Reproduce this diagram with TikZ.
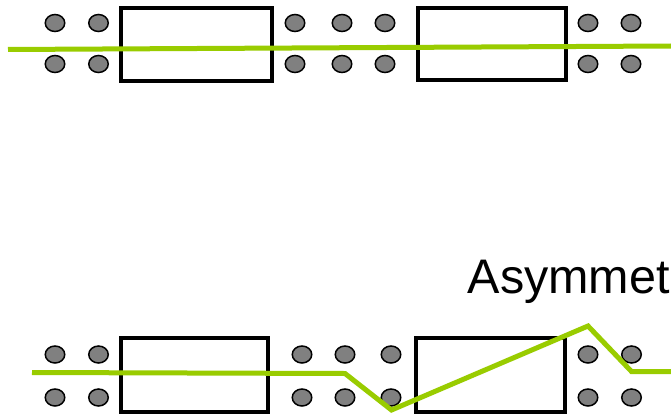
\documentclass[tikz,border=0pt]{standalone}
\usepackage{fontspec}
\setmainfont{Liberation Sans}
\usetikzlibrary{shapes.geometric}
\definecolor{lgreen}{HTML}{99CC00}
\definecolor{dotgray}{HTML}{808080}
\begin{document}
\begin{tikzpicture}[x=1pt,y=-1pt,
  dot/.style={ellipse,draw=black,line width=1.5pt,fill=dotgray,minimum width=19.5pt,minimum height=17pt,inner sep=0pt},
  box/.style={draw=black,line width=4pt,fill=white,inner sep=0pt},
  wire/.style={draw=lgreen,line width=5pt}]
\useasboundingbox (0,0) rectangle (671,417);
% top row
\node[box,minimum width=151pt,minimum height=73pt] (tb1) at (196.5,44.5) {};
\node[box,minimum width=148pt,minimum height=72pt] (tb2) at (492,44) {};
\foreach \x/\n in {55/a,98.5/b,295/c,342/d,385/e,588/f,631/g}{
  \node[dot] (tu\n) at (\x,23) {};
  \node[dot] (tl\n) at (\x,64) {};
}
% bottom row
\node[box,minimum width=147pt,minimum height=74.5pt] (bb1) at (194.5,374.75) {};
\node[box,minimum width=149pt,minimum height=74.5pt] (bb2) at (490,374.75) {};
\foreach \x/\n in {55/a,98.5/b,302/c,345/d,391/e,588/f,631.5/g}{
  \node[dot] (bu\n) at (\x,354.5) {};
  \node[dot] (bl\n) at (\x,397.5) {};
}
\node[anchor=base west,font=\fontsize{48.5pt}{52pt}\selectfont,inner sep=0pt] (title) at (467.5,293.3) {Asymmet};
% wires
\coordinate (t0) at (8,49.5);
\coordinate (t1) at (671,46);
\draw[wire] (t0) -- (t1);
\coordinate (b0) at (32,372.5);
\coordinate (b1) at (345,373.5);
\coordinate (b2) at (391.5,410);
\coordinate (b3) at (588,326);
\coordinate (b4) at (631.5,371.5);
\coordinate (b5) at (671,371.5);
\draw[wire] (b0) -- (b1) -- (b2) -- (b3) -- (b4) -- (b5);
\end{tikzpicture}
\end{document}
